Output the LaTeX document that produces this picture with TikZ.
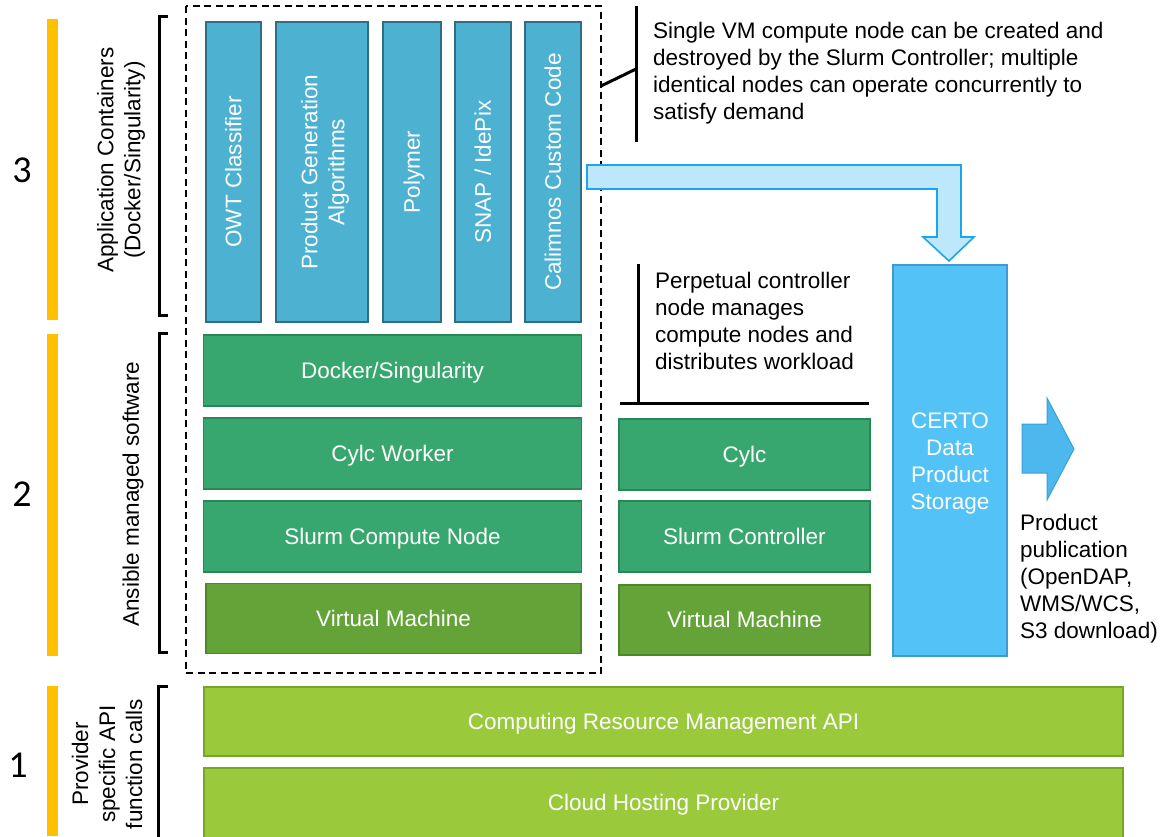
\documentclass[tikz,border=0pt]{standalone}
\usepackage{fontspec}
\setmainfont{Liberation Sans}
\newfontfamily\numfont{Carlito}
\definecolor{ybar}{HTML}{FFC000}
\definecolor{cfill}{HTML}{4DB2D1}
\definecolor{cdraw}{HTML}{2E6F86}
\definecolor{gfill}{HTML}{38A76F}
\definecolor{gdraw}{HTML}{2B8656}
\definecolor{vfill}{HTML}{63A338}
\definecolor{vdraw}{HTML}{4C882B}
\definecolor{lfill}{HTML}{9ACA3B}
\definecolor{ldraw}{HTML}{77A52C}
\definecolor{sfill}{HTML}{53C2F7}
\definecolor{sdraw}{HTML}{3E9BCB}
\definecolor{afill}{HTML}{BDE7FB}
\definecolor{adraw}{HTML}{1CA6EA}
\definecolor{rfill}{HTML}{4DB8EE}
\definecolor{rdraw}{HTML}{3A9FD6}
\begin{document}
\begin{tikzpicture}[x=1pt,y=-1pt,
  txt/.style={font=\fontsize{22.5}{27}\selectfont},
  anybox/.style={rectangle, inner sep=0pt, line width=1.6pt, text=white, align=center, txt,
    text height=20.4pt, text depth=4.8pt},
  cbox/.style={anybox, fill=cfill, draw=cdraw, rotate=90, minimum width=300pt},
  gbox/.style={anybox, fill=gfill, draw=gdraw, minimum height=71pt},
  vmbox/.style={anybox, fill=vfill, draw=vdraw, minimum height=70pt},
  lbox/.style={anybox, fill=lfill, draw=ldraw, minimum width=919pt, minimum height=69pt},
  boxtext/.style={txt, align=center, inner sep=0pt, text=white},
  lab/.style={txt, align=center, inner sep=0pt},
  note/.style={txt, align=left, inner sep=0pt, anchor=west},
  num/.style={font=\numfont\fontsize{38}{40}\selectfont, inner sep=0pt},
  brk/.style={line width=3pt, line cap=butt},
  callout/.style={line width=3pt},
  ybarst/.style={fill=ybar, draw=none}
]
\useasboundingbox (0,0) rectangle (1167,836);

% yellow bars and numbers
\fill[ybarst] (47,19) rectangle (58,320);
\fill[ybarst] (47,334) rectangle (58,656);
\fill[ybarst] (47,686) rectangle (58,836);
\node[num] (n3) at (22,170) {3};
\node[num] (n2) at (22,494) {2};
\node[num] (n1) at (18,765) {1};

% rotated labels
\node[lab, rotate=90] (l3) at (121,160) {Application Containers\\(Docker/Singularity)};
\node[lab, rotate=90] (l2) at (133,494) {Ansible managed software};
\node[lab, rotate=90] (l1) at (107,764) {Provider\\specific API\\function calls};

% brackets
\draw[brk] (168,16) -- (159,16) -- (159,315) -- (168,315);
\draw[brk] (168,333) -- (159,333) -- (159,652) -- (168,652);
\draw[brk] (168,686) -- (158,686) -- (158,840);

% dashed compute node frame
\draw[black, line width=1.5pt, dash pattern=on 7pt off 4.5pt] (186,6) rectangle (601,673);

% application containers
\node[cbox, minimum height=55pt] (owt) at (233.5,172) {OWT Classifier};
\node[cbox, minimum height=92pt] (pga) at (322,172) {};
\node[boxtext, rotate=90] (pgat) at (325,172) {Product Generation\\Algorithms};
\node[cbox, minimum height=58pt] (poly) at (412,172) {Polymer};
\node[cbox, minimum height=56pt] (snap) at (483,172) {SNAP / IdePix};
\node[cbox, minimum height=56pt] (cal) at (553,172) {Calimnos Custom Code};

% left stack
\node[gbox, minimum width=378pt] (dock) at (392.5,370.5) {Docker/Singularity};
\node[gbox, minimum width=378pt] (cw) at (392.5,453.5) {Cylc Worker};
\node[gbox, minimum width=378pt] (scn) at (392.5,536.5) {Slurm Compute Node};
\node[vmbox, minimum width=375pt] (vm1) at (393.5,618.5) {Virtual Machine};

% right stack
\node[gbox, minimum width=251pt] (cylc) at (744.5,454.5) {Cylc};
\node[gbox, minimum width=251pt] (sc) at (744.5,536.5) {Slurm Controller};
\node[vmbox, minimum width=251pt] (vm2) at (744.5,620) {Virtual Machine};

% storage
\node[anybox, fill=sfill, draw=sdraw, minimum width=114pt, minimum height=391pt] (certo) at (950,460.5) {};
\node[boxtext] (certot) at (950,463.5) {CERTO\\Data\\Product\\Storage};

% bottom layer
\node[lbox] (crm) at (663.5,721.5) {Computing Resource Management API};
\node[lbox, minimum height=70pt] (chp) at (663.5,803) {Cloud Hosting Provider};

% callouts
\coordinate (c1top) at (636,6);
\coordinate (c1bot) at (636,142);
\coordinate (c1mid) at (636,69);
\coordinate (c1frame) at (601,86);
\draw[callout] (c1top) -- (c1bot);
\draw[callout] (c1frame) -- (c1mid);
\node[note] (t1) at (653,73.5) {Single VM compute node can be created and\\destroyed by the Slurm Controller; multiple\\identical nodes can operate concurrently to\\satisfy demand};

\coordinate (c2top) at (638,264);
\coordinate (c2bot) at (638,403);
\coordinate (c2l) at (620,403);
\coordinate (c2r) at (869,403);
\draw[callout] (c2top) -- (c2bot);
\draw[callout] (c2l) -- (c2r);
\node[note] (t2) at (655,320.5) {Perpetual controller\\node manages\\compute nodes and\\distributes workload};

% big arrow from containers to storage
\draw[fill=afill, draw=adraw, line width=1.6pt, line join=miter]
  (587,165) -- (961,165) -- (961,237) -- (974,237) -- (949,261) -- (923,237)
  -- (937,237) -- (937,189) -- (587,189) -- cycle;

% publication arrow
\draw[fill=rfill, draw=rdraw, line width=1pt]
  (1022,424) -- (1047,424) -- (1047,398) -- (1074,449) -- (1047,500) -- (1047,473) -- (1022,473) -- cycle;
\node[note] (t3) at (1020,579) {Product\\publication\\(OpenDAP,\\WMS/WCS,\\S3 download)};
\end{tikzpicture}
\end{document}
